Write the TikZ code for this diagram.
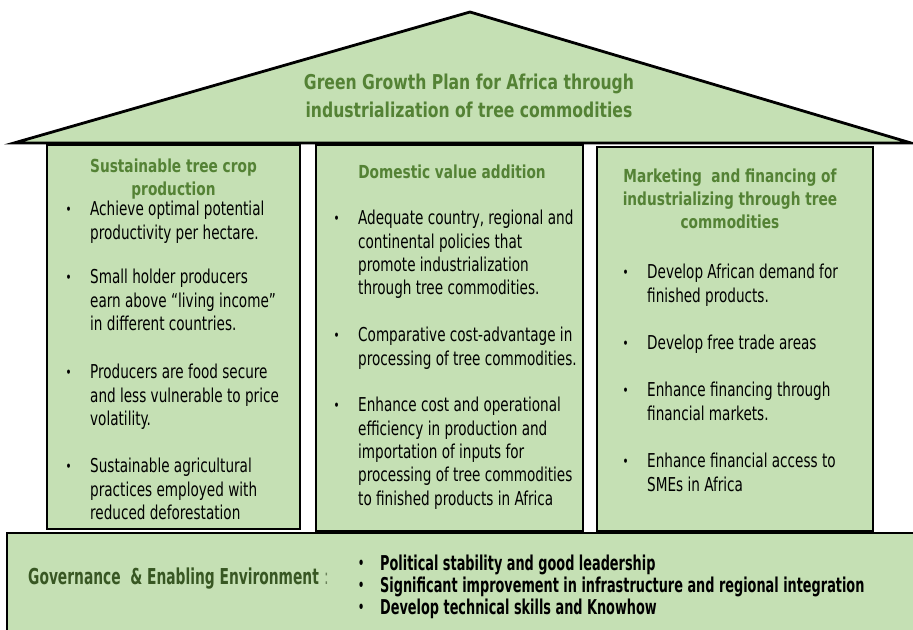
\documentclass[tikz,border=0pt]{standalone}
\usepackage{fontspec}
\newfontfamily\headf[FakeStretch=0.85]{DejaVu Sans Condensed Bold}
\newfontfamily\bodyf[FakeStretch=0.79]{DejaVu Sans Condensed}
\newfontfamily\barf[FakeStretch=0.70]{DejaVu Sans Condensed Bold}
\newfontfamily\colonf[FakeStretch=0.70]{DejaVu Sans Condensed}
\definecolor{leaf}{HTML}{C5E0B4}
\definecolor{headgreen}{HTML}{548235}
\definecolor{darkgreen}{HTML}{385723}
\tikzset{
  panel/.style={fill=leaf, draw=black, line width=2.6bp},
  roofstyle/.style={fill=leaf, draw=black, line width=2.8bp, line join=miter},
  rooftitle/.style={font=\headf\fontsize{20.5}{28}\selectfont, text=headgreen, align=center, inner sep=0},
  colhead/.style={font=\headf\fontsize{18}{22.8}\selectfont, text=headgreen, align=center, inner sep=0},
  item/.style={font=\bodyf\fontsize{19.2}{23.4}\selectfont, align=left, anchor=north west, inner sep=0},
  barline/.style={font=\barf\fontsize{20.5}{22}\selectfont, anchor=base west, inner sep=0},
}
\newcommand{\bul}{\llap{\raisebox{0.1ex}{\scalebox{0.75}{\textbullet}}\hspace{18.5bp}}}
\newcommand{\lead}{\rule{0pt}{16.4bp}}
\begin{document}
\begin{tikzpicture}[x=1bp, y=-1bp]
\useasboundingbox (0,0) rectangle (913,630);
% foundation bar
\path[panel] (7,533) rectangle (925,645);
% three pillars
\path[panel] (47,145) rectangle (300,529);
\path[panel] (316,145) rectangle (583,531);
\path[panel] (597,147) rectangle (873,531);
% roof
\path[roofstyle] (14,143) -- (470,12) -- (911,143) -- cycle;

\node[rooftitle] (title) at (469,96) {Green Growth Plan for Africa through\\industrialization of tree commodities};

% left pillar
\node[colhead] (h1) at (173.5,179) {Sustainable tree crop\\production};
\node[item] (a1) at (90,199.3) {\lead\bul Achieve optimal potential\\productivity per hectare.};
\node[item] (a2) at (90,267.3) {\lead\bul Small holder producers\\earn above “living income”\\in different countries.};
\node[item] (a3) at (90,362.3) {\lead\bul Producers are food secure\\and less vulnerable to price\\volatility.};
\node[item] (a4) at (90,456.3) {\lead\bul Sustainable agricultural\\practices employed with\\reduced deforestation};

% middle pillar
\node[colhead] (h2) at (452,172) {Domestic value addition};
\node[item] (b1) at (358,208.3) {\lead\bul Adequate country, regional and\\continental policies that\\promote industrialization\\through tree commodities.};
\node[item] (b2) at (358,325.3) {\lead\bul Comparative cost-advantage in\\processing of tree commodities.};
\node[item] (b3) at (358,395.3) {\lead\bul Enhance cost and operational\\efficiency in production and\\importation of inputs for\\processing of tree commodities\\to finished products in Africa};

% right pillar
\node[colhead] (h3) at (730,199) {Marketing\ \ and financing of\\industrializing through tree\\commodities};
\node[item] (c1) at (647,262.3) {\lead\bul Develop African demand for\\finished products.};
\node[item] (c2) at (647,333.3) {\lead\bul Develop free trade areas};
\node[item] (c3) at (647,380.3) {\lead\bul Enhance financing through\\financial markets.};
\node[item] (c4) at (647,451.3) {\lead\bul Enhance financial access to\\SMEs in Africa};

% foundation text
\node[font=\barf\fontsize{22}{24}\selectfont, text=darkgreen, anchor=base west, inner sep=0] (gov) at (28,584) {Governance\ \ \&~Enabling Environment};
\node[font=\colonf\fontsize{22}{24}\selectfont, text=darkgreen!75, anchor=base west, inner sep=0] (colon) at (324,584) {:};
\node[barline] (d1) at (380,570) {\llap{\raisebox{0.1ex}{\scalebox{0.75}{\textbullet}}\hspace{16bp}}Political stability and good leadership};
\node[barline] (d2) at (380,592) {\llap{\raisebox{0.1ex}{\scalebox{0.75}{\textbullet}}\hspace{16bp}}Significant improvement in infrastructure and regional integration};
\node[barline] (d3) at (380,614) {\llap{\raisebox{0.1ex}{\scalebox{0.75}{\textbullet}}\hspace{16bp}}Develop technical skills and Knowhow};
\end{tikzpicture}
\end{document}
